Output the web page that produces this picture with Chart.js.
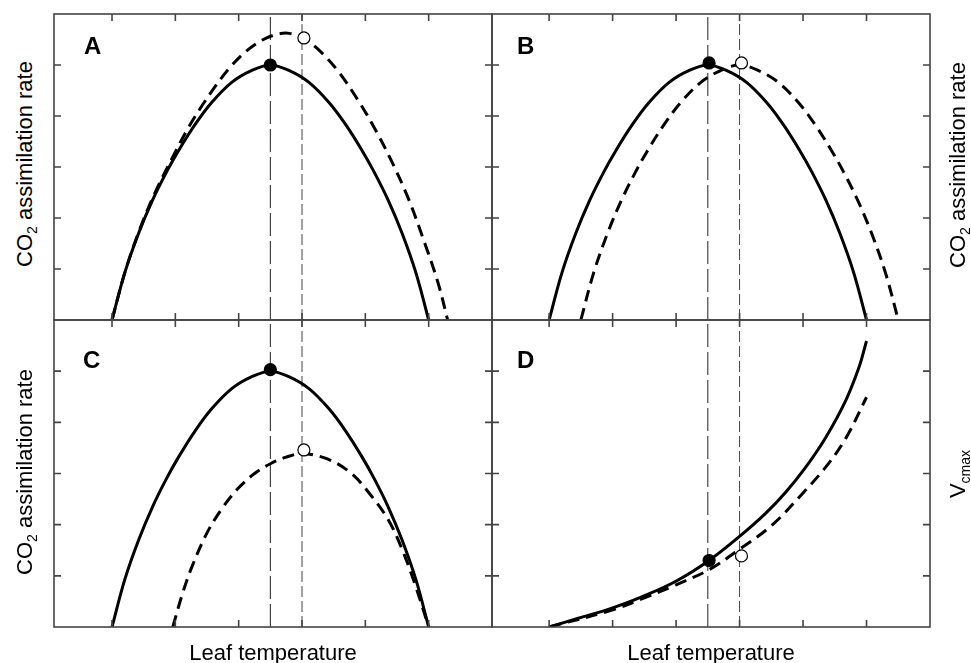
<!DOCTYPE html>
<html>
<head>
<meta charset="utf-8">
<script src="https://cdn.jsdelivr.net/npm/chart.js@4.4.1/dist/chart.umd.min.js"></script>
<style>
  body { margin: 0; background: #fff; }
  #fig { position: relative; width: 971px; height: 663px; overflow: hidden; font-family: Arial, 'Liberation Sans', sans-serif; color: #000; }
  #fig canvas { position: absolute; }
  .lbl { position: absolute; font-weight: bold; font-size: 24px; line-height: 24px; }
  .xt { position: absolute; font-size: 22px; line-height: 22px; white-space: nowrap; transform: translateX(-50%); top: 642px; }
  .yt { position: absolute; font-size: 22px; line-height: 26px; white-space: nowrap; transform: translate(-50%, -50%) rotate(-90deg); }
  .yt sub { font-size: 14px; vertical-align: -5px; line-height: 0; }
</style>
</head>
<body>
<div id="fig">
  <canvas id="cA" width="458" height="326" style="left:44px;top:4px"></canvas>
  <canvas id="cB" width="458" height="326" style="left:482px;top:4px"></canvas>
  <canvas id="cC" width="458" height="327" style="left:44px;top:310px"></canvas>
  <canvas id="cD" width="458" height="327" style="left:482px;top:310px"></canvas>

  <div class="lbl" style="left:84px;top:34px">A</div>
  <div class="lbl" style="left:517px;top:34px">B</div>
  <div class="lbl" style="left:83px;top:348px">C</div>
  <div class="lbl" style="left:517px;top:348px">D</div>

  <div class="yt" style="left:25px;top:164px">CO<sub>2</sub> assimilation rate</div>
  <div class="yt" style="left:25px;top:472px">CO<sub>2</sub> assimilation rate</div>
  <div class="yt" style="left:958px;top:165px">CO<sub>2</sub> assimilation rate</div>
  <div class="yt" style="left:958px;top:474px">V<sub>cmax</sub></div>

  <div class="xt" style="left:273px">Leaf temperature</div>
  <div class="xt" style="left:711px">Leaf temperature</div>
</div>

<script>
// axis ticks (inward tick marks only, no labels)
const xTicks = [0, 1, 2, 3, 4, 5];
const yTicks = [1, 2, 3, 4, 5];
// temperature optima (vertical dashed lines)
const optLong = 2.5;
const optShort = 3.0;

// reference curve (solid) shared by A, B, C
const refX = [0, 0.2, 0.42, 0.64, 0.86, 1.05, 1.31, 1.57, 1.89, 2.2, 2.5, 2.8, 3.11, 3.43, 3.69, 3.95, 4.14, 4.36, 4.58, 4.8, 5.0];
const refY = [0, 0.92, 1.7, 2.35, 2.9, 3.32, 3.83, 4.26, 4.66, 4.89, 5.0, 4.89, 4.66, 4.26, 3.83, 3.32, 2.9, 2.35, 1.7, 0.92, 0];

// A: acclimated curve, higher and wider
const aDashX = [0, 0.2, 0.42, 0.68, 0.99, 1.2, 1.42, 1.63, 1.84, 2.1, 2.36, 2.6, 2.8, 3.02, 3.26, 3.57, 3.89, 4.15, 4.42, 4.68, 4.94, 5.15, 5.3];
const aDashY = [0, 0.92, 1.72, 2.5, 3.27, 3.76, 4.2, 4.58, 4.92, 5.25, 5.48, 5.6, 5.62, 5.52, 5.3, 4.88, 4.3, 3.75, 3.1, 2.38, 1.5, 0.72, 0];

// B: acclimated curve, shifted
const bDashX = [0.5, 0.7, 0.92, 1.14, 1.36, 1.55, 1.81, 2.07, 2.39, 2.7, 3.0, 3.3, 3.61, 3.93, 4.19, 4.45, 4.64, 4.86, 5.08, 5.3, 5.5];
const bDashY = [0, 0.92, 1.7, 2.35, 2.9, 3.32, 3.83, 4.26, 4.66, 4.89, 5.0, 4.89, 4.66, 4.26, 3.83, 3.32, 2.9, 2.35, 1.7, 0.92, 0];

// C: acclimated curve, lower
const cDashX = [0.96, 1.1, 1.25, 1.5, 1.75, 2.0, 2.25, 2.5, 2.75, 3.0, 3.41, 3.78, 4.09, 4.36, 4.57, 4.78, 5.0];
const cDashY = [0, 0.6, 1.14, 1.84, 2.34, 2.72, 3.0, 3.19, 3.32, 3.39, 3.28, 3.0, 2.57, 2.1, 1.55, 0.85, 0];

// D: Vcmax curves
const dSolidX = [0, 0.46, 0.99, 1.46, 1.99, 2.52, 3.0, 3.41, 3.73, 4.04, 4.36, 4.67, 4.88, 5.0];
const dSolidY = [0, 0.17, 0.37, 0.59, 0.89, 1.3, 1.77, 2.22, 2.64, 3.12, 3.71, 4.42, 5.07, 5.59];
const dDashX = [0, 0.99, 1.46, 1.99, 2.52, 3.0, 3.52, 4.0, 4.36, 4.67, 5.0];
const dDashY = [0, 0.33, 0.55, 0.82, 1.12, 1.52, 2.0, 2.62, 3.13, 3.68, 4.49];

// optimum markers [x, y]
const aFilled = [2.5, 5.0], aOpen = [3.03, 5.53];
const bFilled = [2.52, 5.04], bOpen = [3.03, 5.04];
const cFilled = [2.5, 5.03], cOpen = [3.03, 3.46];
const dFilled = [2.52, 1.3], dOpen = [3.03, 1.39];

function pts(xs, ys) {
    return xs.map((x, i) => ({ x: x, y: ys[i] }));
}

function curve(xs, ys, dashed) {
    return {
        data: pts(xs, ys),
        borderColor: '#000',
        borderWidth: 3,
        borderDash: dashed ? [12, 7] : [],
        pointRadius: 0,
        tension: 0.35,
        fill: false,
        order: 1
    };
}

function vline(xv, dash, color) {
    return {
        data: [{ x: xv, y: 0 }, { x: xv, y: 6 }],
        borderColor: color,
        borderWidth: 1,
        borderDash: dash,
        pointRadius: 0,
        tension: 0,
        fill: false,
        order: 2
    };
}

function marker(p, filled) {
    return {
        data: [{ x: p[0], y: p[1] }],
        showLine: false,
        pointRadius: 6,
        pointBackgroundColor: filled ? '#000' : '#fff',
        pointBorderColor: '#000',
        pointBorderWidth: 1.2,
        order: 0
    };
}

// box frame with inward ticks on all four sides
const frameTicks = {
    id: 'frameTicks',
    afterDatasetsDraw(chart) {
        const { ctx, chartArea: a, scales: { x, y } } = chart;
        ctx.save();
        ctx.strokeStyle = '#444';
        ctx.lineWidth = 1.6;
        ctx.strokeRect(a.left, a.top, a.width, a.height);
        ctx.beginPath();
        xTicks.forEach(v => {
            const p = x.getPixelForValue(v);
            ctx.moveTo(p, a.top); ctx.lineTo(p, a.top + 7);
            ctx.moveTo(p, a.bottom); ctx.lineTo(p, a.bottom - 7);
        });
        yTicks.forEach(v => {
            const p = y.getPixelForValue(v);
            ctx.moveTo(a.left, p); ctx.lineTo(a.left + 7, p);
            ctx.moveTo(a.right, p); ctx.lineTo(a.right - 7, p);
        });
        ctx.stroke();
        ctx.restore();
    }
};

function makePanel(id, xMin, datasets) {
    return new Chart(document.getElementById(id), {
        type: 'line',
        data: { datasets: datasets },
        options: {
            responsive: false,
            animation: false,
            events: [],
            layout: { padding: 10 },
            plugins: { legend: { display: false }, tooltip: { enabled: false } },
            scales: {
                x: { type: 'linear', min: xMin, max: 6, display: false },
                y: { type: 'linear', min: 0, max: 6, display: false }
            }
        },
        plugins: [frameTicks]
    });
}

function lines() {
    return [vline(optLong, [23, 5], '#222'), vline(optShort, [11, 4], '#444')];
}

makePanel('cA', -0.916, [
    marker(aFilled, true), marker(aOpen, false),
    curve(refX, refY, false), curve(aDashX, aDashY, true)
].concat(lines()));

makePanel('cB', -0.9, [
    marker(bFilled, true), marker(bOpen, false),
    curve(refX, refY, false), curve(bDashX, bDashY, true)
].concat(lines()));

makePanel('cC', -0.916, [
    marker(cFilled, true), marker(cOpen, false),
    curve(refX, refY, false), curve(cDashX, cDashY, true)
].concat(lines()));

makePanel('cD', -0.9, [
    marker(dFilled, true), marker(dOpen, false),
    curve(dSolidX, dSolidY, false), curve(dDashX, dDashY, true)
].concat(lines()));
</script>
</body>
</html>
